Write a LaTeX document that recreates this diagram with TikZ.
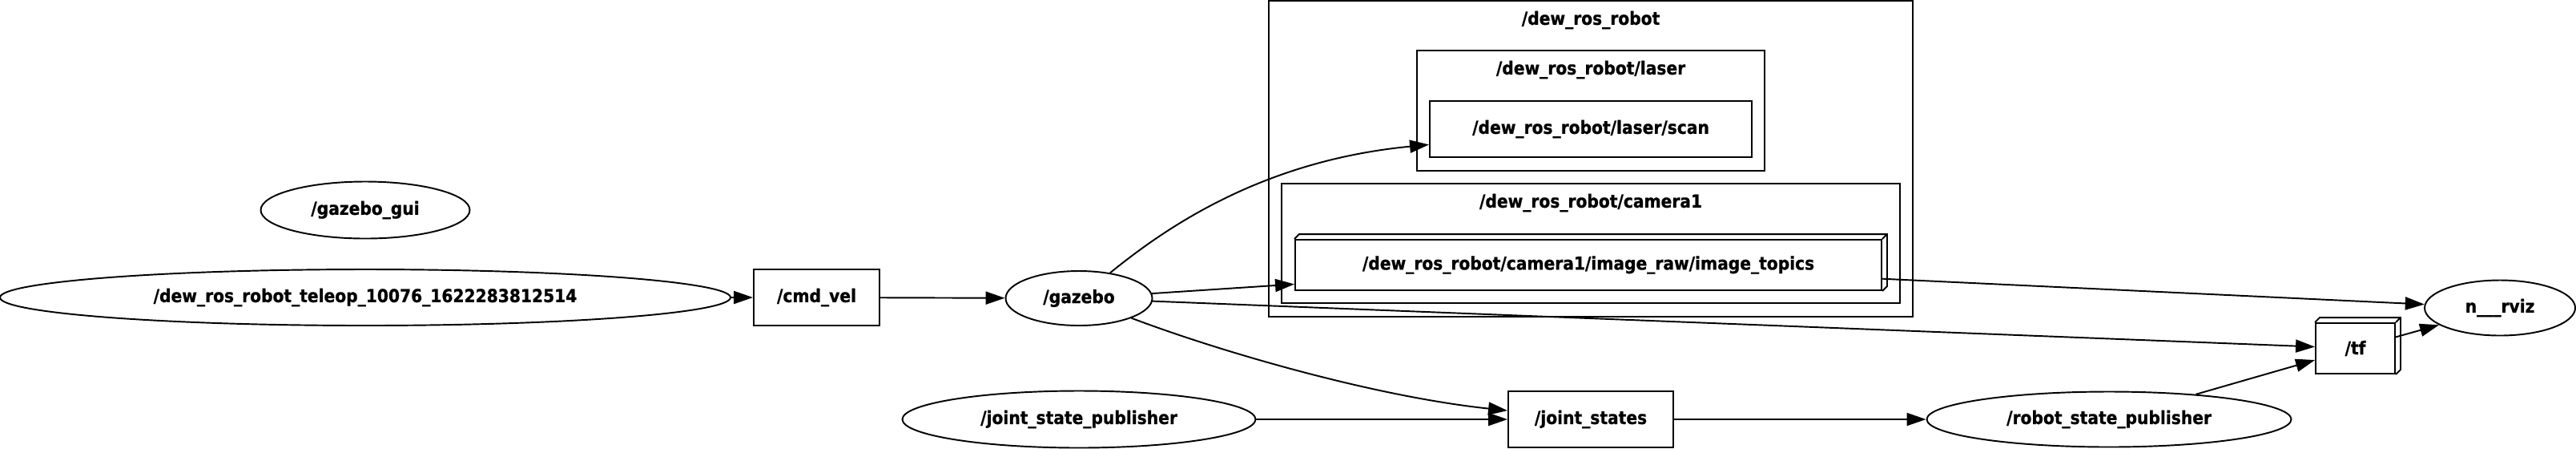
\documentclass[tikz,border=0pt]{standalone}
\usepackage{fontspec}
\setmainfont{DejaVu Sans Condensed}[BoldFeatures={FakeBold=0.8}]
\usetikzlibrary{shapes.geometric,arrows.meta}

% back faces of the 3d topic boxes
\newcommand{\boxback}[1]{%
  \draw[line width=0.55pt] (#1.north west) -- ++(0.06,0.06) -- ([shift={(0.06,0.06)}]#1.north east)
    -- ([shift={(0.06,0.06)}]#1.south east) -- (#1.south east)
    (#1.north east) -- ++(0.06,0.06);}

\begin{document}
\begin{tikzpicture}[
    font=\fontsize{6.4}{7.5}\selectfont\bfseries,
    rosnode/.style={ellipse, draw, line width=0.55pt, inner sep=0pt},
    topic/.style={rectangle, draw, line width=0.55pt, inner sep=0pt, minimum height=0.70cm},
    cluster/.style={draw, line width=0.45pt},
    edge/.style={-{Triangle[length=0.24cm,width=0.16cm]}, line width=0.55pt},
]
\useasboundingbox (0,0) rectangle (32.16,-5.59);

% Namespace clusters
\draw[cluster] (15.84,-0.01) rectangle (23.88,-3.95);
\draw[cluster] (17.69,-0.63) rectangle (22.03,-2.13);
\draw[cluster] (16.00,-2.29) rectangle (23.72,-3.78);
\node (robotns) at (19.86,-0.25) {/dew\_ros\_robot};
\node (laserns) at (19.86,-0.87) {/dew\_ros\_robot/laser};
\node (camns) at (19.86,-2.53) {/dew\_ros\_robot/camera1};

% Nodes (ellipses)
\node[rosnode, minimum width=2.61cm, minimum height=0.71cm] (gui) at (4.56,-2.62) {/gazebo\_gui};
\node[rosnode, minimum width=9.12cm, minimum height=0.70cm] (teleop) at (4.56,-3.71) {/dew\_ros\_robot\_teleop\_10076\_1622283812514};
\node[rosnode, minimum width=1.83cm, minimum height=0.68cm] (gazebo) at (13.47,-3.72) {/gazebo};
\node[rosnode, minimum width=4.41cm, minimum height=0.71cm] (jsp) at (13.47,-5.23) {/joint\_state\_publisher};
\node[rosnode, minimum width=4.55cm, minimum height=0.69cm] (rsp) at (26.33,-5.23) {/robot\_state\_publisher};
\node[rosnode, minimum width=1.88cm, minimum height=0.69cm] (rviz) at (31.21,-3.84) {n\_\_\_rviz};

% Topics (boxes)
\node[topic, minimum width=1.57cm] (cmdvel) at (10.195,-3.71) {/cmd\_vel};
\node[topic, minimum width=4.02cm] (scan) at (19.86,-1.61) {/dew\_ros\_robot/laser/scan};
\node[topic, minimum width=7.32cm, minimum height=0.63cm] (images) at (19.83,-3.305) {/dew\_ros\_robot/camera1/image\_raw/image\_topics};
\node[topic, minimum width=2.06cm] (jstates) at (19.86,-5.23) {/joint\_states};
\node[topic, minimum width=0.99cm, minimum height=0.63cm] (tf) at (29.405,-4.345) {/tf};
\boxback{images}
\boxback{tf}

% Connections
\draw[edge] (teleop) -- (cmdvel);
\draw[edge] (cmdvel) -- (gazebo);
\draw[edge] (gazebo) .. controls (14.6,-2.8) and (15.8,-2.0) .. (scan);
\draw[edge] (gazebo) -- (images);
\draw[edge] (gazebo) -- (tf);
\draw[edge] (gazebo) .. controls (15.3,-4.41) and (17.2,-4.95) .. (jstates);
\draw[edge] (jsp) -- (jstates);
\draw[edge] (jstates) -- (rsp);
\draw[edge] (rsp) -- (tf);
\draw[edge] (images) -- (rviz);
\draw[edge] (tf) -- (rviz);

\end{tikzpicture}
\end{document}
